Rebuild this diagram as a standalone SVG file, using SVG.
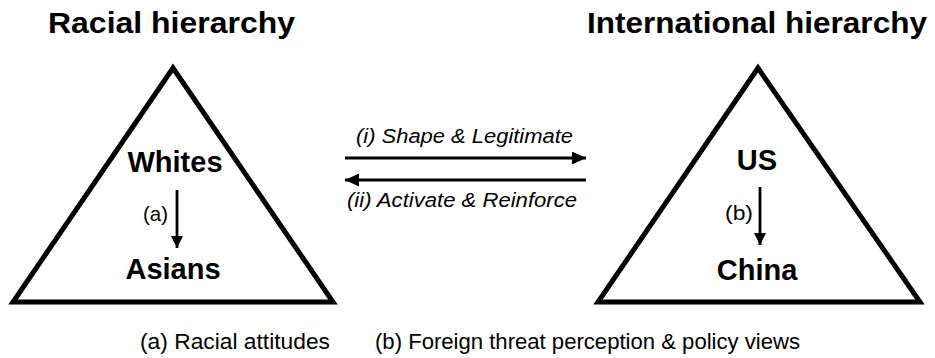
<svg xmlns="http://www.w3.org/2000/svg" width="935" height="358" viewBox="0 0 935 358">
<style>
text{font-family:"Liberation Sans",Arial,sans-serif;fill:#000}
.title{font-size:30px;font-weight:bold}
.node{font-size:29px;font-weight:bold;text-anchor:middle}
.lab{font-size:21px}
.mid{font-size:20px;font-style:italic}
.foot{font-size:22px}
.tri{fill:none;stroke:#000;stroke-width:5;stroke-linejoin:miter}
.vline{stroke:#000;stroke-width:2.8;fill:none}
.hline{stroke:#000;stroke-width:3.2;fill:none}
</style>
<defs>
<marker id="ahV" markerUnits="userSpaceOnUse" markerWidth="12" markerHeight="12" viewBox="0 0 12 12" refX="12" refY="6" orient="auto">
<path d="M0,0 L12,6 L0,12 Z" fill="#000"/>
</marker>
<marker id="ahH" markerUnits="userSpaceOnUse" markerWidth="14" markerHeight="13" viewBox="0 0 14 13" refX="14" refY="6.5" orient="auto">
<path d="M0,0 L14,6.5 L0,13 Z" fill="#000"/>
</marker>
</defs>
<rect width="935" height="358" fill="#fff"/>
<g id="racial-hierarchy">
<text class="title" x="48" y="33" textLength="247" lengthAdjust="spacingAndGlyphs">Racial hierarchy</text>
<polygon class="tri" points="173,68 13,302 333,302"/>
</g>
<g id="international-hierarchy">
<text class="title" x="587" y="33" textLength="340" lengthAdjust="spacingAndGlyphs">International hierarchy</text>
<polygon class="tri" points="758,68 598,302 920,302"/>
</g>
<g id="whites"><text class="node" x="175" y="172">Whites</text></g>
<g id="asians"><text class="node" x="173" y="279">Asians</text></g>
<g id="us"><text class="node" x="757" y="170">US</text></g>
<g id="china"><text class="node" x="757" y="280">China</text></g>
<g id="connectors">
<line class="vline" x1="177" y1="190" x2="177" y2="248" marker-end="url(#ahV)"/>
<text class="lab" x="143" y="221" textLength="25" lengthAdjust="spacingAndGlyphs">(a)</text>
<line class="vline" x1="760" y1="187" x2="760" y2="245" marker-end="url(#ahV)"/>
<text class="lab" x="725" y="220" textLength="28" lengthAdjust="spacingAndGlyphs">(b)</text>
<line class="hline" x1="345" y1="158" x2="586" y2="158" marker-end="url(#ahH)"/>
<text class="mid" x="356" y="143" textLength="217" lengthAdjust="spacingAndGlyphs">(i) Shape &amp; Legitimate</text>
<line class="hline" x1="586" y1="180" x2="345" y2="180" marker-end="url(#ahH)"/>
<text class="mid" x="347" y="207" textLength="230" lengthAdjust="spacingAndGlyphs">(ii) Activate &amp; Reinforce</text>
</g>
<g id="legend">
<text class="foot" x="140" y="349" textLength="190" lengthAdjust="spacingAndGlyphs">(a)  Racial attitudes</text>
<text class="foot" x="375" y="349" textLength="425" lengthAdjust="spacingAndGlyphs">(b) Foreign threat perception &amp; policy views</text>
</g>
</svg>
